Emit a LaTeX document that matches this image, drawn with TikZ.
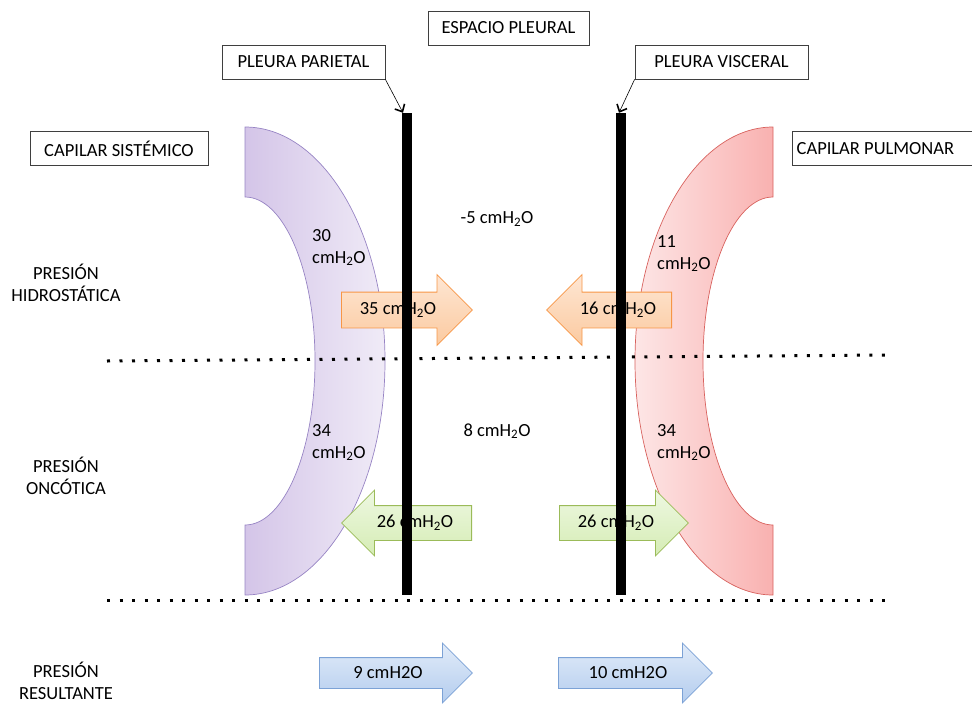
\documentclass[tikz,border=0pt]{standalone}
\usepackage{fontspec}
\setmainfont{Carlito}
\usepackage{tikz}
\usetikzlibrary{shapes.arrows,arrows.meta}
\definecolor{boxline}{HTML}{3F3F3F}
\definecolor{sistL}{HTML}{D4C5E8}
\definecolor{sistR}{HTML}{F0EBF7}
\definecolor{sistB}{HTML}{9784C4}
\definecolor{pulmL}{HTML}{FDE6E6}
\definecolor{pulmR}{HTML}{F9B1B0}
\definecolor{pulmB}{HTML}{D8625E}
\definecolor{oraT}{HTML}{FEE6D3}
\definecolor{oraB}{HTML}{FBCAA0}
\definecolor{oraL}{HTML}{F79646}
\definecolor{grnT}{HTML}{EEF8E2}
\definecolor{grnB}{HTML}{D5ECB4}
\definecolor{grnL}{HTML}{9BBB59}
\definecolor{bluT}{HTML}{E1EBF9}
\definecolor{bluB}{HTML}{B4CDEE}
\definecolor{bluL}{HTML}{7CA2D6}

\begin{document}
\begin{tikzpicture}[x=1pt,y=1pt,
    every node/.style={font=\fontsize{18.5}{22}\selectfont},
    lbox/.style={draw=boxline,line width=0.8pt,minimum height=34pt,inner sep=0pt},
    val/.style={align=left,anchor=north west,inner sep=0pt},
    bar/.style={fill=black,minimum width=10pt,minimum height=482pt,inner sep=0pt},
    flecha/.style={single arrow,anchor=tail,single arrow head extend=17.5pt,text height=12pt,text depth=4pt,inner ysep=9.5pt,inner xsep=4pt,line width=0.8pt},
    naranja/.style={flecha,draw=oraL,top color=oraT,bottom color=oraB},
    verde/.style={flecha,draw=grnL,top color=grnT,bottom color=grnB,single arrow head extend=15.5pt,inner ysep=9pt},
    azul/.style={flecha,draw=bluL,top color=bluT,bottom color=bluB,single arrow head extend=14.5pt,inner ysep=7pt},
    izq/.style={shape border rotate=180},
    punteado/.style={line width=3pt,dash pattern=on 3pt off 9.5pt},
    rotulo/.style={align=center}]
    \clip (0,0) rectangle (972,-704);

    \draw[draw=sistB,left color=sistL,right color=sistR,line width=0.7pt]
      (245,-127) arc[start angle=90,end angle=-90,x radius=140,y radius=234]
      -- (245,-525) arc[start angle=-90,end angle=90,x radius=70,y radius=164] -- cycle;
    \draw[draw=pulmB,left color=pulmL,right color=pulmR,line width=0.7pt]
      (773,-127) arc[start angle=90,end angle=270,x radius=138,y radius=234]
      -- (773,-525) arc[start angle=270,end angle=90,x radius=70,y radius=164] -- cycle;

    \coordinate (h1) at (107,-361);
    \coordinate (h2) at (888,-355);
    \coordinate (o1) at (107,-600);
    \coordinate (o2) at (888,-600);
    \draw[punteado] (h1) -- (h2);
    \draw[punteado] (o1) -- (o2);

    \node[naranja,minimum height=131pt] (hs) at (341,-310) {};
    \node[naranja,izq,minimum height=125pt] (hp) at (672,-310) {};
    \node[verde,izq,minimum height=130pt] (os) at (472,-523) {};
    \node[verde,minimum height=129pt] (op) at (559,-523) {};
    \node[azul,minimum height=153pt] (rs) at (319,-673) {};
    \node[azul,minimum height=154pt] (rp) at (558,-673) {};

    \node[bar] (parietal) at (407,-354) {};
    \node[bar] (visceral) at (621,-354) {};

    \node (hst) at (398,-310) {35 cmH\textsubscript{2}O};
    \node (hpt) at (618,-310) {16 cmH\textsubscript{2}O};
    \node (ost) at (415,-523) {26 cmH\textsubscript{2}O};
    \node (opt) at (616,-523) {26 cmH\textsubscript{2}O};
    \node (rst) at (388,-673) {9 cmH2O};
    \node (rpt) at (628,-673) {10 cmH2O};

    \node[lbox,minimum width=161pt] (espacio) at (508.5,-28) {ESPACIO PLEURAL};
    \node[lbox,minimum width=163pt] (lparietal) at (303.5,-62) {PLEURA PARIETAL};
    \node[lbox,minimum width=173pt] (lvisceral) at (721.5,-62) {PLEURA VISCERAL};
    \node[lbox,minimum width=178pt] (sistemico) at (119,-148.5) {CAPILAR SISTÉMICO};
    \node[lbox,minimum width=200pt,anchor=west] (pulmonar) at (792,-148.5) {\hspace*{-34pt}CAPILAR PULMONAR};

    \draw[-{Straight Barb[line width=1.6pt,length=6pt,width=11pt]},line width=0.6pt]
      (lparietal.south east) -- ([xshift=-4pt]parietal.north);
    \draw[-{Straight Barb[line width=1.6pt,length=6pt,width=11pt]},line width=0.6pt]
      (lvisceral.south west) -- ([xshift=-2pt]visceral.north);

    \node[val] (hsv) at (312,-229) {30\\cmH\textsubscript{2}O};
    \node[val] (osv) at (312,-424) {34\\cmH\textsubscript{2}O};
    \node[val] (hpv) at (657,-235) {11\\cmH\textsubscript{2}O};
    \node[val] (opv) at (657,-424) {34\\cmH\textsubscript{2}O};
    \node (hesp) at (497,-219) {-5 cmH\textsubscript{2}O};
    \node (oesp) at (497,-431) {8 cmH\textsubscript{2}O};

    \node[rotulo] (hidro) at (66,-283) {PRESIÓN\\HIDROSTÁTICA};
    \node[rotulo] (onco) at (66,-476) {PRESIÓN\\ONCÓTICA};
    \node[rotulo] (result) at (66,-681) {PRESIÓN\\RESULTANTE};
\end{tikzpicture}
\end{document}
